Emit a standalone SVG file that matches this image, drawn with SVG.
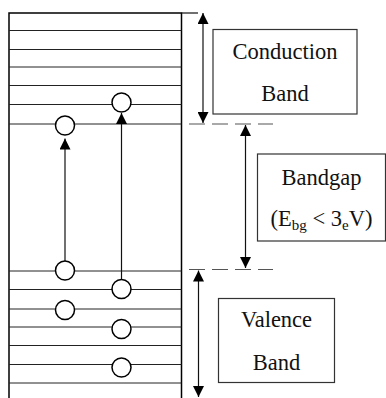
<svg xmlns="http://www.w3.org/2000/svg" width="386" height="398" viewBox="0 0 386 398">
  <style>
    .frame { fill: none; stroke: #000; stroke-width: 1.5; }
    .level { stroke: #222; stroke-width: 1; }
    .carrier { fill: #fff; stroke: #000; stroke-width: 1.5; }
    .conn { stroke: #111; stroke-width: 1.2; fill: none; }
    .dash { stroke: #555; stroke-width: 1.2; fill: none; stroke-dasharray: 16 7; }
    .box { fill: #fff; stroke: #333; stroke-width: 1.2; }
    .label { font-size: 22.5px; fill: #111; text-anchor: middle; }
    .sub { font-size: 15px; }
  </style>
  <defs>
    <marker id="head" markerUnits="userSpaceOnUse" markerWidth="11" markerHeight="11" refX="11" refY="5.5" orient="auto-start-reverse">
      <path d="M0,0 L11,5.5 L0,11 z" fill="#000"/>
    </marker>
  </defs>

  <!-- energy level frame with discrete levels -->
  <g id="levels">
    <path class="frame" d="M9,398 V13 H181.5 V398"/>
    <g class="level">
      <line x1="9" y1="30.5" x2="181.5" y2="30.5"/>
      <line x1="9" y1="49.5" x2="181.5" y2="49.5"/>
      <line x1="9" y1="67" x2="181.5" y2="67"/>
      <line x1="9" y1="85.5" x2="181.5" y2="85.5"/>
      <line x1="9" y1="104.5" x2="181.5" y2="104.5"/>
      <line x1="9" y1="124" x2="181.5" y2="124"/>
      <line x1="9" y1="271" x2="181.5" y2="271"/>
      <line x1="9" y1="289.5" x2="181.5" y2="289.5"/>
      <line x1="9" y1="309" x2="181.5" y2="309"/>
      <line x1="9" y1="327" x2="181.5" y2="327"/>
      <line x1="9" y1="345.5" x2="181.5" y2="345.5"/>
      <line x1="9" y1="364.5" x2="181.5" y2="364.5"/>
      <line x1="9" y1="383" x2="181.5" y2="383"/>
    </g>
  </g>

  <!-- connectors: transitions, band extents, band edges -->
  <g id="connectors">
    <line class="conn" x1="65" y1="261" x2="65" y2="138.5" marker-end="url(#head)"/>
    <line class="conn" x1="121.5" y1="279.5" x2="121.5" y2="113" marker-end="url(#head)"/>
    <line class="conn" x1="181.5" y1="13" x2="198" y2="13"/>
    <line class="conn" x1="203" y1="13" x2="203" y2="123" marker-start="url(#head)" marker-end="url(#head)"/>
    <line class="conn" x1="245.5" y1="125" x2="245.5" y2="268" marker-start="url(#head)" marker-end="url(#head)"/>
    <line class="conn" x1="198.5" y1="270.5" x2="198.5" y2="397" marker-start="url(#head)" marker-end="url(#head)"/>
    <line class="dash" x1="189" y1="124" x2="273" y2="124"/>
    <line class="dash" x1="189" y1="269.5" x2="273" y2="269.5"/>
  </g>

  <!-- carriers -->
  <g id="carriers">
    <circle id="c1" class="carrier" cx="121.5" cy="102.5" r="9.5"/>
    <circle id="c2" class="carrier" cx="65" cy="125.5" r="9.5"/>
    <circle id="c3" class="carrier" cx="65" cy="270.5" r="9.5"/>
    <circle id="c4" class="carrier" cx="121.5" cy="289" r="9.5"/>
    <circle id="c5" class="carrier" cx="65" cy="310" r="9.5"/>
    <circle id="c6" class="carrier" cx="121.5" cy="329" r="9.5"/>
    <circle id="c7" class="carrier" cx="121.5" cy="367.5" r="9.5"/>
  </g>

  <g font-family="'Liberation Serif', 'DejaVu Serif', serif">
    <g id="conduction-band">
      <rect class="box" x="213" y="29.5" width="144" height="84.5"/>
      <text class="label" x="285" y="58.5">Conduction</text>
      <text class="label" x="285" y="100.5">Band</text>
    </g>

    <g id="bandgap">
      <rect class="box" x="257.5" y="154" width="128" height="87"/>
      <text class="label" x="321.5" y="185">Bandgap</text>
      <text class="label" x="321.5" y="226">(E<tspan class="sub" dy="4">bg</tspan><tspan dy="-4"> &lt; 3</tspan><tspan class="sub" dy="4">e</tspan><tspan dy="-4">V)</tspan></text>
    </g>

    <g id="valence-band">
      <rect class="box" x="218.5" y="298.5" width="116" height="84"/>
      <text class="label" x="276.5" y="326.5">Valence</text>
      <text class="label" x="276.5" y="370">Band</text>
    </g>
  </g>
</svg>
